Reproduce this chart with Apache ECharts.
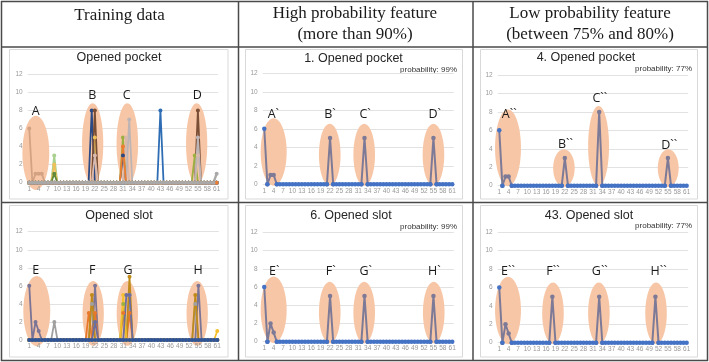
<!DOCTYPE html>
<html>
<head>
<meta charset="utf-8">
<script src="https://cdn.jsdelivr.net/npm/echarts@6/dist/echarts.min.js"></script>
<style>
  html, body { margin: 0; padding: 0; background: #fff; }
  #main { width: 709px; height: 362px; }
</style>
</head>
<body>
<div id="main"></div>
<script>
// x categories 1..61, labels every 3rd
const cats = [];
for (let i = 1; i <= 61; i++) cats.push(String(i));

// training data, opened pocket (category -> value, zero elsewhere)
const tpTan = { 1: 6, 3: 1, 4: 1, 5: 1 };
const tpLightGreen = { 9: 3 };
const tpGold = { 9: 2, 22: 5 };
const tpDarkGreen = { 9: 1 };
const tpNavy = { 21: 8, 31: 3 };
const tpBrown = { 22: 8, 55: 8 };
const tpOlive = { 31: 5, 54: 3 };
const tpPink = { 22: 3, 32: 5, 55: 3 };
const tpLightGray = { 33: 7, 55: 5 };
const tpBlue = { 43: 8 };
const tpOrange = { 31: 4 };
const tpBase = { 61: 1 };

// training data, opened slot
const tsPurple = { 1: 6, 3: 2, 4: 1, 22: 6, 55: 6 };
const tsGray = { 9: 2, 21: 4, 33: 5, 54: 4 };
const tsOrange = { 20: 3, 22: 3, 31: 3, 33: 3 };
const tsDarkGold = { 21: 5, 33: 7, 54: 5 };
const tsGreen = { 31: 4 };
const tsYellow = { 31: 5, 61: 1 };
const tsSlate = { 22: 2, 32: 5, 33: 5 };
const tsBase = {};

// extracted features
const f1Pocket = { 1: 6, 3: 1, 4: 1, 22: 5, 33: 5, 55: 5 };
const f4Pocket = { 1: 6, 3: 1, 4: 1, 22: 3, 33: 8, 55: 3 };
const f6Slot = { 1: 6, 3: 2, 4: 1, 22: 5, 33: 5, 55: 5 };
const f43Slot = { 1: 6, 3: 2, 4: 1, 18: 5, 33: 5, 51: 5 };

// highlighted regions: [category, value, half width (categories), half height (units)]
const ellTP = [[3.1, 3.3, 4.3, 4.1], [21.3, 4.3, 3.4, 4.5], [32.4, 4.3, 3.45, 4.5], [54.6, 4.3, 3.4, 4.5]];
const ellF1 = [[4.0, 3.5, 4.15, 3.65], [21.9, 3.2, 3.45, 3.35], [32.9, 3.2, 3.45, 3.35], [55.0, 3.2, 3.45, 3.35]];
const ellF4 = [[3.8, 4.1, 4.15, 4.15], [21.7, 1.9, 3.45, 2.05], [32.8, 4.3, 3.35, 4.35], [55.1, 1.9, 3.35, 2.05]];
const ellTS = [[3.4, 3.2, 4.3, 3.9], [21.4, 2.95, 3.4, 3.6], [32.3, 2.95, 3.4, 3.6], [54.6, 2.95, 3.4, 3.6]];
const ellF6 = [[4.0, 3.5, 4.15, 3.65], [21.9, 3.2, 3.45, 3.38], [32.9, 3.2, 3.45, 3.38], [55.1, 3.2, 3.45, 3.38]];
const ellF43 = [[3.8, 3.5, 4.15, 3.66], [18.2, 3.2, 3.45, 3.33], [32.9, 3.2, 3.45, 3.33], [51.2, 3.2, 3.45, 3.33]];

// region letters: [text, category, value]
const lblTP = [['A', 3.1, 7.9], ['B', 21.2, 9.7], ['C', 32.2, 9.7], ['D', 54.8, 9.7]];
const lblF1 = [['A`', 3.9, 7.5], ['B`', 22.0, 7.5], ['C`', 33.2, 7.5], ['D`', 55.4, 7.5]];
const lblF4 = [['A``', 4.2, 7.7], ['B``', 22.2, 4.5], ['C``', 33.2, 9.5], ['D``', 55.4, 4.35]];
const lblTS = [['E', 3.05, 7.75], ['F', 21.1, 7.75], ['G', 32.5, 7.75], ['H', 54.9, 7.75]];
const lblF6 = [['E`', 4.2, 7.75], ['F`', 22.2, 7.75], ['G`', 33.4, 7.75], ['H`', 55.3, 7.75]];
const lblF43 = [['E``', 3.8, 7.75], ['F``', 18.2, 7.75], ['G``', 33.2, 7.75], ['H``', 52.0, 7.75]];

const titles = ['Opened pocket', '1. Opened pocket', '4. Opened pocket', 'Opened slot', '6. Opened slot', '43. Opened slot'];
const probs = [null, 'probability: 99%', 'probability: 77%', null, 'probability: 99%', 'probability: 77%'];

const BLUE = '#4472C4';
const FEAT = '#7D7A97';
const ELL = '#F7C6A6';
const SANS = '"Liberation Sans", Arial, sans-serif';

function full(peaks) {
  return cats.map((c, i) => (peaks[i + 1] !== undefined ? peaks[i + 1] : 0));
}

const grids = [
  { left: 27.7, top: 74.3, width: 190.5, height: 108.4 },
  { left: 262.7, top: 73.3, width: 191.1, height: 111 },
  { left: 497.7, top: 75, width: 190.5, height: 110.7 },
  { left: 27.7, top: 231.7, width: 191.1, height: 108.3 },
  { left: 262.7, top: 232.3, width: 191.1, height: 109.4 },
  { left: 497.7, top: 232.3, width: 190.5, height: 110.4 },
];

const xAxes = grids.map((g, i) => ({
  type: 'category', gridIndex: i, data: cats, boundaryGap: true, zlevel: 1,
  axisTick: { show: false },
  axisLine: { show: false },
  axisLabel: { interval: 2, fontSize: 6.5, color: '#999999', margin: 3, fontFamily: SANS },
}));
const yAxes = grids.map((g, i) => ({
  type: 'value', gridIndex: i, min: 0, max: 12, interval: 2,
  axisLine: { show: false }, axisTick: { show: false },
  axisLabel: { fontSize: 6.5, color: '#999999', margin: 5, fontFamily: SANS },
  splitLine: { lineStyle: { color: '#E2E2E2', width: 1 } },
}));

function lineSeries(idx, peaks, color, width) {
  return {
    type: 'line', xAxisIndex: idx, yAxisIndex: idx, data: full(peaks),
    symbol: 'circle', symbolSize: 4, showAllSymbol: true,
    lineStyle: { color: color, width: width || 1.8 }, itemStyle: { color: color },
    animation: false, silent: true, z: 3,
  };
}

function featureSeries(idx, peaks) {
  const v = full(peaks);
  const peakData = v.map((y, i) => {
    if (!(y || v[i - 1] || v[i + 1])) return '-';
    return i === 0 ? { value: y, itemStyle: { color: BLUE } } : y;
  });
  const baseData = v.map((y) => (y === 0 ? 0 : '-'));
  return [
    {
      type: 'line', xAxisIndex: idx, yAxisIndex: idx, data: peakData,
      symbol: 'circle', symbolSize: 4.5, showAllSymbol: true,
      lineStyle: { color: FEAT, width: 2 }, itemStyle: { color: FEAT },
      animation: false, silent: true, z: 3,
    },
    {
      type: 'line', xAxisIndex: idx, yAxisIndex: idx, data: baseData,
      symbol: 'circle', symbolSize: 4.5, showAllSymbol: true,
      lineStyle: { color: BLUE, width: 2 }, itemStyle: { color: BLUE },
      animation: false, silent: true, z: 4,
    },
  ];
}

function ellipseSeries(idx, ells) {
  return {
    type: 'custom', xAxisIndex: idx, yAxisIndex: idx, z: 1, silent: true, animation: false,
    data: ells.map((e) => [0, e[1], e[0], e[2], e[3]]),
    encode: { x: 0, y: 1 },
    renderItem(params, api) {
      const bw = api.size([1, 0])[0];
      const x0 = api.coord([0, 0])[0];
      const cx = x0 + (api.value(2) - 1) * bw;
      const cy = api.coord([0, api.value(1)])[1];
      const rx = api.value(3) * bw;
      const ry = api.size([0, api.value(4)], [0, api.value(1)])[1];
      return { type: 'ellipse', shape: { cx: cx, cy: cy, rx: rx, ry: ry }, style: { fill: ELL } };
    },
  };
}

function letterSeries(idx, labels) {
  return {
    type: 'custom', xAxisIndex: idx, yAxisIndex: idx, z: 5, silent: true, animation: false,
    data: labels.map((l) => [0, l[2], l[1]]),
    encode: { x: 0, y: 1 },
    renderItem(params, api) {
      const bw = api.size([1, 0])[0];
      const x0 = api.coord([0, 0])[0];
      const x = x0 + (api.value(2) - 1) * bw;
      const y = api.coord([0, api.value(1)])[1];
      return {
        type: 'text', x: x, y: y,
        style: {
          text: labels[params.dataIndex][0], fill: '#1a1a1a', fontSize: 12.5, fontFamily: '"Open Sans", sans-serif',
          align: 'center', verticalAlign: 'middle', textAlign: 'center', textVerticalAlign: 'middle',
        },
      };
    },
  };
}

const series = [
  ellipseSeries(0, ellTP), letterSeries(0, lblTP),
  lineSeries(0, tpTan, '#D3A283'),
  lineSeries(0, tpLightGreen, '#A9D18E'),
  lineSeries(0, tpGold, '#F0C05A'),
  lineSeries(0, tpDarkGreen, '#5E8A3A'),
  lineSeries(0, tpNavy, '#2B4A85'),
  lineSeries(0, tpBrown, '#7A4E35'),
  lineSeries(0, tpOlive, '#9CB040'),
  lineSeries(0, tpPink, '#D9B9AE'),
  lineSeries(0, tpLightGray, '#BDB5B5'),
  lineSeries(0, tpBlue, '#2E6DB4'),
  lineSeries(0, tpOrange, '#ED7D31'),
  lineSeries(0, tpBase, '#A9A9A9', 2.4),

  ellipseSeries(1, ellF1), letterSeries(1, lblF1), ...featureSeries(1, f1Pocket),
  ellipseSeries(2, ellF4), letterSeries(2, lblF4), ...featureSeries(2, f4Pocket),

  ellipseSeries(3, ellTS), letterSeries(3, lblTS),
  lineSeries(3, tsPurple, '#7A7496'),
  lineSeries(3, tsGray, '#A0A0A0'),
  lineSeries(3, tsOrange, '#E8782C'),
  lineSeries(3, tsDarkGold, '#BF8A1A'),
  lineSeries(3, tsGreen, '#9CB040'),
  lineSeries(3, tsYellow, '#F5C02C'),
  lineSeries(3, tsSlate, '#6B6E9E'),
  lineSeries(3, tsBase, '#2F5597', 2.4),

  ellipseSeries(4, ellF6), letterSeries(4, lblF6), ...featureSeries(4, f6Slot),
  ellipseSeries(5, ellF43), letterSeries(5, lblF43), ...featureSeries(5, f43Slot),
];

// table frame and chart-area boxes
const LINE = '#4a4a4a';
const graphic = [];
function hline(x1, x2, y, w) {
  graphic.push({ type: 'line', shape: { x1: x1, y1: y, x2: x2, y2: y }, style: { stroke: LINE, lineWidth: w || 1.5 }, silent: true });
}
function vline(x, y1, y2, w) {
  graphic.push({ type: 'line', shape: { x1: x, y1: y1, x2: x, y2: y2 }, style: { stroke: LINE, lineWidth: w || 1.5 }, silent: true });
}
hline(1, 708, 1.5); hline(1, 708, 47); hline(1, 708, 202.5); hline(1, 708, 360.5);
vline(1.5, 1, 361); vline(238.5, 1, 361); vline(473, 1, 361); vline(707.5, 1, 361);

const boxX = [[9.5, 228], [245.5, 462.5], [480.5, 697.5]];
const boxY = [[49.5, 199], [205.5, 357]];
boxY.forEach((by) => boxX.forEach((bx) => {
  graphic.push({ type: 'rect', shape: { x: bx[0], y: by[0], width: bx[1] - bx[0], height: by[1] - by[0] },
    style: { fill: null, stroke: '#D9D9D9', lineWidth: 1 }, silent: true });
}));

function text(str, x, y, size, family, align, color) {
  graphic.push({ type: 'text', x: x, y: y, silent: true,
    style: { text: str, fontSize: size, fontFamily: family, fill: color || '#1a1a1a',
      align: align || 'center', verticalAlign: 'middle', textAlign: align || 'center', textVerticalAlign: 'middle' } });
}
const SERIF = '"Liberation Serif", "Times New Roman", serif';
text('Training data', 119.5, 16, 17, SERIF);
text('High probability feature', 355, 14, 17, SERIF);
text('(more than 90%)', 355, 35, 17, SERIF);
text('Low probability feature', 590, 14, 17, SERIF);
text('(between 75% and 80%)', 590, 35, 17, SERIF);

const titlePos = [[119, 57.5], [353.5, 58.5], [586, 57.5], [119, 216], [351, 216], [589, 216]];
const probPos = [null, [457, 70], [692, 68.5], null, [457, 226.5], [692, 226]];
titles.forEach((t, i) => {
  text(t, titlePos[i][0], titlePos[i][1], 12.5, SANS, 'center', '#262626');
  if (probs[i]) text(probs[i], probPos[i][0], probPos[i][1], 8, SANS, 'right', '#333');
});

const chart = echarts.init(document.getElementById('main'));
chart.setOption({
  animation: false,
  backgroundColor: '#fff',
  grid: grids.map((g) => Object.assign({ containLabel: false, outerBoundsMode: 'none' }, g)),
  xAxis: xAxes,
  yAxis: yAxes,
  series: series,
  graphic: graphic,
});
</script>
</body>
</html>
